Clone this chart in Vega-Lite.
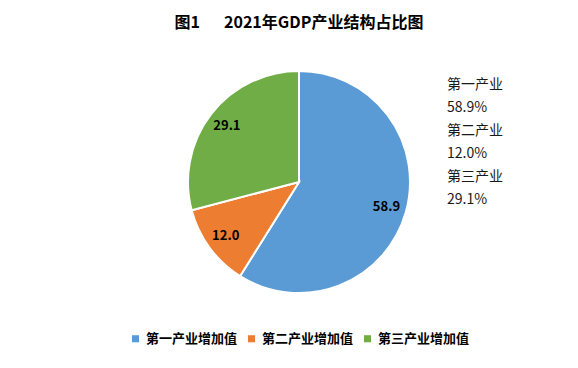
{
  "$schema": "https://vega.github.io/schema/vega-lite/v6.json",
  "width": 558,
  "height": 244,
  "padding": {"left": 20, "top": 15, "right": 0, "bottom": 0},
  "background": "white",
  "title": {"text": "图1\u3000\u20022021年GDP产业结构占比图", "fontSize": 16, "fontWeight": "bold", "font": "Noto Sans CJK SC", "color": "#000000", "offset": 29, "anchor": "middle"},
  "data": {"values": [
    {"industry": "第一产业增加值", "note": "第一产业|58.9%", "value": 58.9, "order": 1},
    {"industry": "第二产业增加值", "note": "第二产业|12.0%", "value": 12.0, "order": 2},
    {"industry": "第三产业增加值", "note": "第三产业|29.1%", "value": 29.1, "order": 3}
  ]},
  "encoding": {
    "theta": {"field": "value", "type": "quantitative", "stack": true},
    "order": {"field": "order", "type": "quantitative"}
  },
  "layer": [
    {
      "mark": {"type": "arc", "radius": 111, "strokeWidth": 2},
      "encoding": {
        "color": {"field": "industry", "type": "nominal",
          "scale": {"domain": ["第一产业增加值", "第二产业增加值", "第三产业增加值"], "range": ["#5B9BD5", "#ED7D31", "#70AD47"]},
          "legend": {"orient": "bottom", "direction": "horizontal", "title": null, "symbolType": "square", "symbolSize": 50, "labelFontSize": 13, "labelFontWeight": "bold", "labelFont": "Noto Sans CJK SC", "labelColor": "#000000", "columnPadding": 7, "labelOffset": 4, "offset": 28}},
        "stroke": {"field": "note", "type": "nominal",
          "scale": {"domain": ["第一产业|58.9%", "第二产业|12.0%", "第三产业|29.1%"], "range": ["#ffffff", "#ffffff", "#ffffff"]},
          "legend": {"orient": "none", "legendX": 413, "legendY": 18, "title": null, "symbolSize": 0, "symbolOpacity": 0, "symbolStrokeWidth": 0, "labelOffset": 0, "labelFontSize": 14, "labelFont": "Noto Sans CJK SC", "labelColor": "#1a1a1a", "labelExpr": "split(datum.label, '|')", "rowPadding": 9}}
      }
    },
    {
      "mark": {"type": "text", "radius": 91, "fontSize": 13, "fontWeight": "bold", "font": "Noto Sans CJK SC", "color": "#000000"},
      "encoding": {"text": {"field": "value", "type": "quantitative", "format": ".1f"}}
    }
  ],
  "config": {
    "view": {"stroke": null},
    "legend": {"layout": {"bottom": {"anchor": "middle"}}},
    "style": {"guide-label": {"lineHeight": 23}}
  }
}
